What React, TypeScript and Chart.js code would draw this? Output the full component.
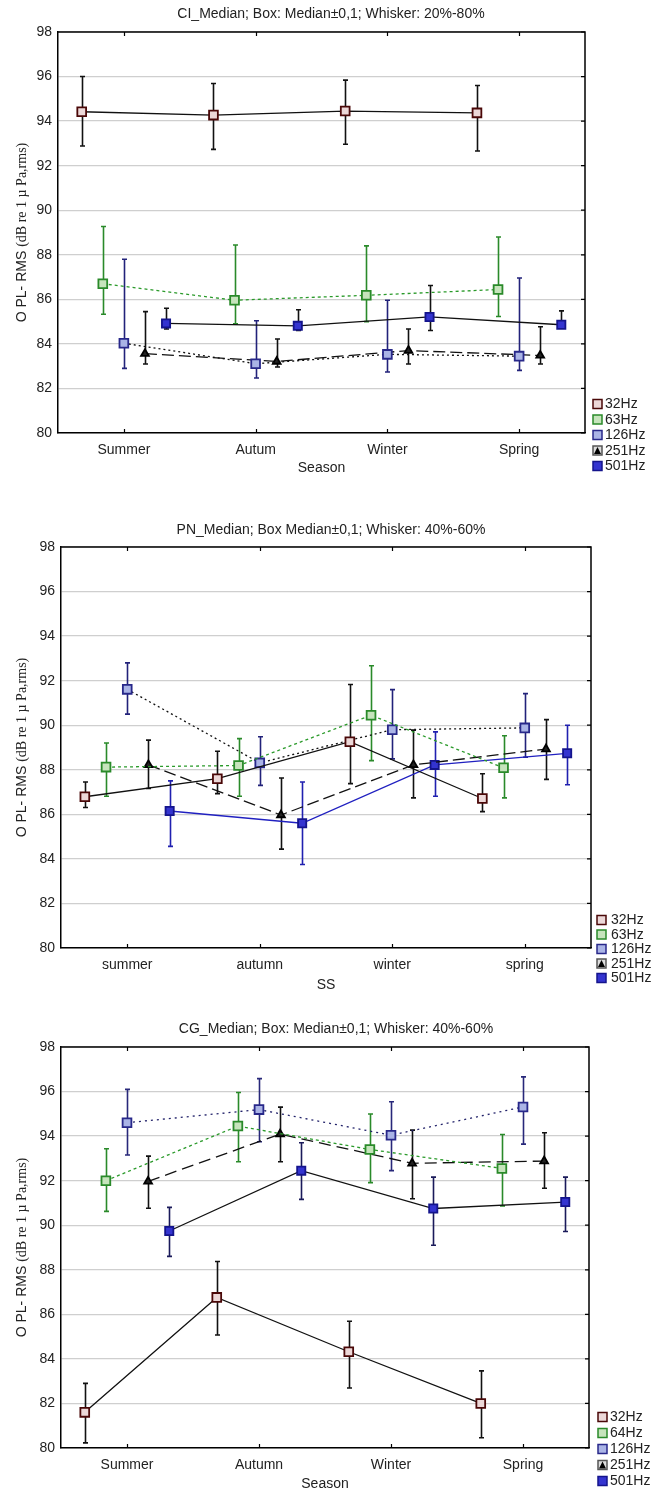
import React, { useEffect, useRef } from "react";
import { Chart, registerables } from "chart.js";
Chart.register(...registerables);

const SANS = "'Liberation Sans', Arial, sans-serif";
const SERIF = "'Liberation Serif', 'Times New Roman', serif";

// ---------- categories & labels ----------
const SEASONS_CI = ["Summer", "Autum", "Winter", "Spring"];
const SEASONS_PN = ["summer", "autumn", "winter", "spring"];
const SEASONS_CG = ["Summer", "Autumn", "Winter", "Spring"];

const FREQ_CI = ["32Hz", "63Hz", "126Hz", "251Hz", "501Hz"];
const FREQ_PN = ["32Hz", "63Hz", "126Hz", "251Hz", "501Hz"];
const FREQ_CG = ["32Hz", "64Hz", "126Hz", "251Hz", "501Hz"];

const Y_MIN = 80;
const Y_MAX = 98;
const Y_STEP = 2;
const DODGE = [-0.32, -0.16, 0, 0.16, 0.32];

// ---------- CI panel (median, 20%, 80%) ----------
const CI_32_MED = [94.42, 94.27, 94.45, 94.37];
const CI_32_LO = [92.88, 92.73, 92.96, 92.66];
const CI_32_HI = [96.0, 95.69, 95.84, 95.6];
const CI_63_MED = [86.7, 85.96, 86.18, 86.44];
const CI_63_LO = [85.33, 84.9, 85.0, 85.23];
const CI_63_HI = [89.27, 88.44, 88.4, 88.8];
const CI_126_MED = [84.03, 83.11, 83.53, 83.45];
const CI_126_LO = [82.9, 82.47, 82.74, 82.81];
const CI_126_HI = [87.8, 85.04, 85.96, 86.96];
const CI_251_MED = [83.56, 83.21, 83.7, 83.48];
const CI_251_LO = [83.1, 82.96, 83.1, 83.1];
const CI_251_HI = [85.45, 84.22, 84.67, 84.77];
const CI_501_MED = [84.92, 84.81, 85.21, 84.86];
const CI_501_LO = [84.67, 84.6, 84.6, 84.77];
const CI_501_HI = [85.6, 85.53, 86.62, 85.48];

// ---------- PN panel (median, 40%, 60%) ----------
const PN_32_MED = [86.79, 87.6, 89.26, 86.71];
const PN_32_LO = [86.31, 86.93, 87.38, 86.12];
const PN_32_HI = [87.45, 88.83, 91.83, 87.82];
const PN_63_MED = [88.12, 88.19, 90.45, 88.09];
const PN_63_LO = [86.81, 86.81, 88.41, 86.74];
const PN_63_HI = [89.2, 89.4, 92.67, 89.53];
const PN_126_MED = [91.61, 88.31, 89.8, 89.88];
const PN_126_LO = [90.5, 87.3, 88.49, 88.56];
const PN_126_HI = [92.8, 89.48, 91.6, 91.42];
const PN_251_MED = [88.22, 85.97, 88.22, 88.93];
const PN_251_LO = [87.16, 84.44, 86.74, 87.57];
const PN_251_HI = [89.33, 87.63, 89.78, 90.25];
const PN_501_MED = [86.15, 85.6, 88.22, 88.74];
const PN_501_LO = [84.56, 83.75, 86.81, 87.33];
const PN_501_HI = [87.5, 87.45, 89.7, 90.0];

// ---------- CG panel (median, 40%, 60%) ----------
const CG_32_MED = [81.6, 86.76, 84.32, 82.0];
const CG_32_LO = [80.23, 85.07, 82.69, 80.46];
const CG_32_HI = [82.9, 88.37, 85.69, 83.46];
const CG_64_MED = [92.0, 94.45, 93.4, 92.55];
const CG_64_LO = [90.62, 92.85, 91.91, 90.87];
const CG_64_HI = [93.43, 95.96, 94.99, 94.07];
const CG_126_MED = [94.6, 95.19, 94.04, 95.31];
const CG_126_LO = [93.15, 93.75, 92.45, 93.64];
const CG_126_HI = [96.1, 96.58, 95.54, 96.66];
const CG_251_MED = [91.97, 94.09, 92.78, 92.88];
const CG_251_LO = [90.76, 92.85, 91.19, 91.66];
const CG_251_HI = [93.1, 95.3, 94.27, 94.15];
const CG_501_MED = [89.74, 92.45, 90.75, 91.04];
const CG_501_LO = [88.6, 91.16, 89.1, 89.72];
const CG_501_HI = [90.8, 93.7, 92.16, 92.16];

// ---------- styles ----------
type Sty = {
  line: string;
  dash: number[];
  bar: string;
  pStyle: string;
  pFill: string;
  pBorder: string;
  pRadius: number;
};

const M32 = { pStyle: "rect", pFill: "#ecd8d8", pBorder: "#4a0808", pRadius: 6.2 };
const M63 = { pStyle: "rect", pFill: "#c6e4bc", pBorder: "#2a8a2a", pRadius: 6.2 };
const M126 = { pStyle: "rect", pFill: "#aab4e6", pBorder: "#28288a", pRadius: 6.2 };
const M251 = { pStyle: "triangle", pFill: "#222", pBorder: "#000", pRadius: 4.5 };
const M501 = { pStyle: "rect", pFill: "#3434d0", pBorder: "#14148c", pRadius: 5.8 };

const STY_CI: Sty[] = [
  { line: "#111", dash: [], bar: "#111", ...M32 },
  { line: "#2a9a2a", dash: [3, 3], bar: "#2a8a2a", ...M63 },
  { line: "#111", dash: [2, 3], bar: "#22227a", ...M126 },
  { line: "#111", dash: [12, 5], bar: "#111", ...M251 },
  { line: "#111", dash: [], bar: "#111", ...M501 },
];
const STY_PN: Sty[] = [
  { line: "#111", dash: [], bar: "#111", ...M32 },
  { line: "#2a9a2a", dash: [3, 3], bar: "#2a8a2a", ...M63 },
  { line: "#111", dash: [2, 3], bar: "#22227a", ...M126 },
  { line: "#111", dash: [12, 5], bar: "#111", ...M251 },
  { line: "#2020c0", dash: [], bar: "#2020b0", ...M501 },
];
const STY_CG: Sty[] = [
  { line: "#111", dash: [], bar: "#111", ...M32 },
  { line: "#2a9a2a", dash: [3, 3], bar: "#2a8a2a", ...M63 },
  { line: "#22226a", dash: [2, 4], bar: "#28287a", ...M126 },
  { line: "#111", dash: [12, 6], bar: "#111", ...M251 },
  { line: "#111", dash: [], bar: "#1a1a5a", ...M501 },
];

type PanelCfg = {
  top: number;
  height: number;
  area: { l: number; t: number; r: number; b: number };
  title: string;
  titleX: number;
  titleY: number;
  xTitle: string;
  xTitleY: number;
  cats: string[];
  names: string[];
  med: number[][];
  lo: number[][];
  hi: number[][];
  sty: Sty[];
  legY: number;
  legStep: number;
  legMX: number;
  legTX: number;
};

const PANELS: PanelCfg[] = [
  {
    top: 0,
    height: 495,
    area: { l: 58, t: 32, r: 585, b: 433 },
    title: "CI_Median; Box: Median±0,1; Whisker: 20%-80%",
    titleX: 331,
    titleY: 14,
    xTitle: "Season",
    xTitleY: 468,
    cats: SEASONS_CI,
    names: FREQ_CI,
    med: [CI_32_MED, CI_63_MED, CI_126_MED, CI_251_MED, CI_501_MED],
    lo: [CI_32_LO, CI_63_LO, CI_126_LO, CI_251_LO, CI_501_LO],
    hi: [CI_32_HI, CI_63_HI, CI_126_HI, CI_251_HI, CI_501_HI],
    sty: STY_CI,
    legY: 404,
    legStep: 15.5,
    legMX: 593,
    legTX: 605,
  },
  {
    top: 495,
    height: 500,
    area: { l: 61, t: 52, r: 591, b: 453 },
    title: "PN_Median; Box Median±0,1; Whisker: 40%-60%",
    titleX: 331,
    titleY: 35,
    xTitle: "SS",
    xTitleY: 490,
    cats: SEASONS_PN,
    names: FREQ_PN,
    med: [PN_32_MED, PN_63_MED, PN_126_MED, PN_251_MED, PN_501_MED],
    lo: [PN_32_LO, PN_63_LO, PN_126_LO, PN_251_LO, PN_501_LO],
    hi: [PN_32_HI, PN_63_HI, PN_126_HI, PN_251_HI, PN_501_HI],
    sty: STY_PN,
    legY: 425,
    legStep: 14.5,
    legMX: 597,
    legTX: 611,
  },
  {
    top: 995,
    height: 496,
    area: { l: 61, t: 52, r: 589, b: 453 },
    title: "CG_Median; Box: Median±0,1; Whisker: 40%-60%",
    titleX: 336,
    titleY: 34,
    xTitle: "Season",
    xTitleY: 489,
    cats: SEASONS_CG,
    names: FREQ_CG,
    med: [CG_32_MED, CG_64_MED, CG_126_MED, CG_251_MED, CG_501_MED],
    lo: [CG_32_LO, CG_64_LO, CG_126_LO, CG_251_LO, CG_501_LO],
    hi: [CG_32_HI, CG_64_HI, CG_126_HI, CG_251_HI, CG_501_HI],
    sty: STY_CG,
    legY: 422,
    legStep: 16,
    legMX: 598,
    legTX: 610,
  },
];

const XH = 30;
const W = 653;

const whiskerPlugin = {
  id: "whiskers",
  beforeDatasetsDraw(chart: any) {
    const { ctx } = chart;
    const x = chart.scales.x;
    const y = chart.scales.y;
    chart.data.datasets.forEach((ds: any) => {
      ds.data.forEach((p: any, i: number) => {
        const px = Math.round(x.getPixelForValue(p.x)) + 0.5;
        const yl = y.getPixelForValue(ds.lo[i]);
        const yh = y.getPixelForValue(ds.hi[i]);
        ctx.save();
        ctx.strokeStyle = ds.whiskerColor;
        ctx.lineWidth = 1.6;
        ctx.beginPath();
        ctx.moveTo(px, yl);
        ctx.lineTo(px, yh);
        ctx.moveTo(px - 2.5, yl);
        ctx.lineTo(px + 2.5, yl);
        ctx.moveTo(px - 2.5, yh);
        ctx.lineTo(px + 2.5, yh);
        ctx.stroke();
        ctx.restore();
      });
    });
  },
};

const decorPlugin = {
  id: "decor",
  afterDraw(chart: any, _args: any, opts: any) {
    const cfg: PanelCfg = opts.cfg;
    if (!cfg) return;
    const { ctx, chartArea } = chart;
    const { left, right, top, bottom } = chartArea;
    const x = chart.scales.x;
    const y = chart.scales.y;
    ctx.save();
    // frame top & right
    ctx.strokeStyle = "#000";
    ctx.lineWidth = 1.5;
    ctx.beginPath();
    ctx.moveTo(left, top);
    ctx.lineTo(right, top);
    ctx.lineTo(right, bottom);
    ctx.stroke();
    // inner ticks
    ctx.lineWidth = 1.2;
    ctx.beginPath();
    cfg.cats.forEach((_c, i) => {
      const px = Math.round(x.getPixelForValue(i)) + 0.5;
      ctx.moveTo(px, top);
      ctx.lineTo(px, top + 4);
      ctx.moveTo(px, bottom);
      ctx.lineTo(px, bottom - 4);
    });
    for (let v = Y_MIN; v <= Y_MAX; v += Y_STEP) {
      const py = y.getPixelForValue(v);
      ctx.moveTo(right, py);
      ctx.lineTo(right - 4, py);
    }
    ctx.stroke();

    // title
    ctx.fillStyle = "#222";
    ctx.font = `14px ${SANS}`;
    ctx.textAlign = "center";
    ctx.textBaseline = "middle";
    ctx.fillText(cfg.title, cfg.titleX, cfg.titleY);
    // x title
    ctx.font = `14px ${SANS}`;
    ctx.fillText(cfg.xTitle, (left + right) / 2, cfg.xTitleY);

    // y title (two fonts)
    const p1 = "O PL- RMS ";
    const p2 = "(dB re 1 \u00b5 Pa,rms)";
    ctx.font = `14px ${SANS}`;
    const w1 = ctx.measureText(p1).width;
    ctx.font = `14px ${SERIF}`;
    const w2 = ctx.measureText(p2).width;
    const tot = w1 + w2;
    ctx.translate(22, (top + bottom) / 2);
    ctx.rotate(-Math.PI / 2);
    ctx.textAlign = "left";
    ctx.font = `14px ${SANS}`;
    ctx.fillText(p1, -tot / 2, 0);
    ctx.font = `14px ${SERIF}`;
    ctx.fillText(p2, -tot / 2 + w1, 0);
    ctx.restore();

    // legend
    ctx.save();
    chart.data.datasets.forEach((ds: any, i: number) => {
      const cy = cfg.legY + i * cfg.legStep;
      const mx = cfg.legMX;
      const s = cfg.sty[i];
      ctx.fillStyle = s.pFill;
      ctx.strokeStyle = s.pBorder;
      ctx.lineWidth = 1.5;
      if (s.pStyle === "triangle") {
        ctx.fillStyle = "#ddd";
        ctx.fillRect(mx, cy - 4.5, 9, 9);
        ctx.strokeStyle = "#555";
        ctx.strokeRect(mx, cy - 4.5, 9, 9);
        ctx.fillStyle = "#000";
        ctx.beginPath();
        ctx.moveTo(mx + 4.5, cy - 3.5);
        ctx.lineTo(mx + 8, cy + 3.5);
        ctx.lineTo(mx + 1, cy + 3.5);
        ctx.closePath();
        ctx.fill();
      } else {
        ctx.fillRect(mx, cy - 4.5, 9, 9);
        ctx.strokeRect(mx, cy - 4.5, 9, 9);
      }
      ctx.fillStyle = "#222";
      ctx.font = `14px ${SANS}`;
      ctx.textAlign = "left";
      ctx.textBaseline = "middle";
      ctx.fillText(ds.label, cfg.legTX, cy + 0.5);
    });
    ctx.restore();
  },
};

function Panel({ cfg }: { cfg: PanelCfg }) {
  const ref = useRef<HTMLCanvasElement | null>(null);
  useEffect(() => {
    if (!ref.current) return;
    const datasets = cfg.names.map((name, si) => {
      const s = cfg.sty[si];
      return {
        label: name,
        data: cfg.med[si].map((v, ci) => ({ x: ci + DODGE[si], y: v })),
        lo: cfg.lo[si],
        hi: cfg.hi[si],
        whiskerColor: s.bar,
        borderColor: s.line,
        borderDash: s.dash,
        borderWidth: 1.3,
        backgroundColor: s.pFill,
        pointStyle: s.pStyle,
        pointRadius: s.pRadius,
        pointBackgroundColor: s.pFill,
        pointBorderColor: s.pBorder,
        pointBorderWidth: 1.8,
        tension: 0,
        fill: false,
      };
    });
    const chart = new Chart(ref.current, {
      type: "line",
      data: { datasets } as any,
      plugins: [whiskerPlugin, decorPlugin],
      options: {
        animation: false,
        responsive: false,
        devicePixelRatio: 1,
        layout: {
          padding: {
            left: 0,
            top: cfg.area.t,
            right: W - cfg.area.r,
            bottom: cfg.height - cfg.area.b - XH,
          },
        },
        plugins: {
          legend: { display: false },
          title: { display: false },
          tooltip: { enabled: false },
          decor: { cfg },
        } as any,
        scales: {
          x: {
            type: "linear",
            min: -0.5,
            max: 3.5,
            grid: { display: false, drawTicks: false },
            border: { color: "#000", width: 1.5 },
            afterBuildTicks: (s: any) => {
              s.ticks = cfg.cats.map((_c, i) => ({ value: i }));
            },
            afterFit: (s: any) => {
              s.height = XH;
            },
            ticks: {
              callback: (v: any) => cfg.cats[v] ?? "",
              font: { size: 14, family: SANS },
              color: "#222",
              padding: 9,
              maxRotation: 0,
              autoSkip: false,
            },
          },
          y: {
            type: "linear",
            min: Y_MIN,
            max: Y_MAX,
            grid: { color: "#cfcfcf", lineWidth: 1.3, drawTicks: false },
            border: { color: "#000", width: 1.5 },
            afterFit: (s: any) => {
              s.width = cfg.area.l;
            },
            ticks: {
              stepSize: Y_STEP,
              font: { size: 14, family: SANS },
              color: "#222",
              padding: 6,
            },
          },
        } as any,
      } as any,
    });
    return () => chart.destroy();
  }, [cfg]);
  return (
    <canvas
      ref={ref}
      width={W}
      height={cfg.height}
      style={{ position: "absolute", left: 0, top: cfg.top, width: W, height: cfg.height }}
    />
  );
}

export default function App() {
  return (
    <div
      style={{
        position: "absolute",
        left: 0,
        top: 0,
        width: W,
        height: 1491,
        background: "#fff",
        overflow: "hidden",
      }}
    >
      {PANELS.map((p, i) => (
        <Panel key={i} cfg={p} />
      ))}
    </div>
  );
}
